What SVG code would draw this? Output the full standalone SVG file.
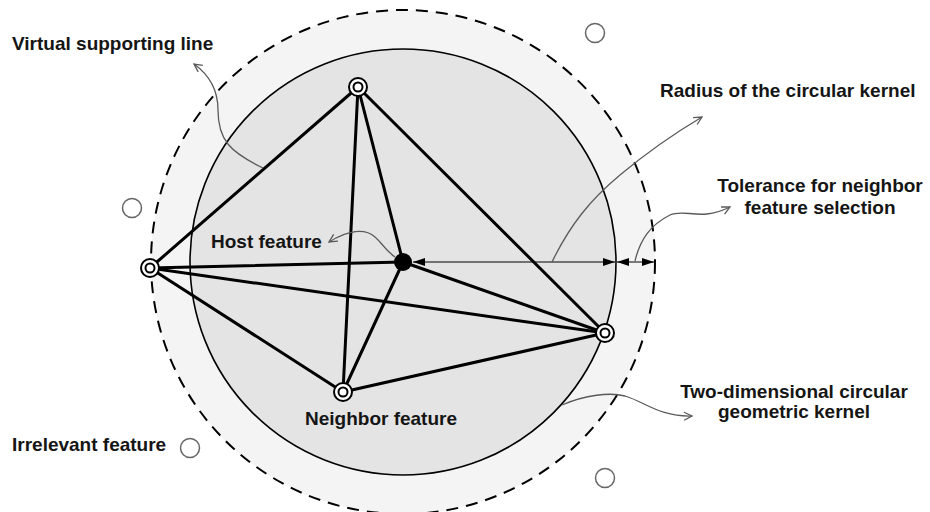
<svg xmlns="http://www.w3.org/2000/svg" width="930" height="512" viewBox="0 0 930 512">
<style>
.t{font-family:"Liberation Sans",Arial,sans-serif;font-weight:bold;font-size:19px;fill:#151515}
.e{stroke:#000;stroke-width:3;fill:none;stroke-linecap:round}
.ld{stroke:#5a5a5a;stroke-width:1.3;fill:none;marker-end:url(#oa)}
.nd{fill:#fff;stroke:#000;stroke-width:2}
.irr{fill:#fff;stroke:#666;stroke-width:1.5}
.dim{stroke:#000;stroke-width:1.2;fill:none;marker-start:url(#ah);marker-end:url(#ah)}
</style>
<defs>
<marker id="ah" viewBox="0 0 12 8" refX="12" refY="4" markerWidth="12" markerHeight="8" markerUnits="userSpaceOnUse" orient="auto-start-reverse"><path d="M0,0 L12,4 L0,8z" fill="#000"/></marker>
<marker id="oa" viewBox="0 0 10 10" refX="9" refY="5" markerWidth="10" markerHeight="10" markerUnits="userSpaceOnUse" orient="auto"><path d="M1,1 L9,5 L1,9" fill="none" stroke="#5a5a5a" stroke-width="1.3"/></marker>
</defs>
<rect width="930" height="512" fill="#fff"/>
<g id="tolerance-zone"><circle cx="403" cy="262" r="252" fill="#f4f4f4" stroke="#000" stroke-width="2" stroke-dasharray="12 8"/></g>
<g id="kernel"><circle cx="403" cy="262" r="213" fill="#e4e4e4" stroke="#000" stroke-width="1.6"/></g>
<g id="connectors">
<line class="e" x1="150" y1="268" x2="358" y2="87"/>
<line class="e" x1="150" y1="268" x2="403" y2="262"/>
<line class="e" x1="150" y1="268" x2="605" y2="333"/>
<line class="e" x1="150" y1="268" x2="343" y2="392"/>
<line class="e" x1="358" y1="87" x2="403" y2="262"/>
<line class="e" x1="358" y1="87" x2="605" y2="333"/>
<line class="e" x1="358" y1="87" x2="343" y2="392"/>
<line class="e" x1="403" y1="262" x2="605" y2="333"/>
<line class="e" x1="403" y1="262" x2="343" y2="392"/>
<line class="e" x1="343" y1="392" x2="605" y2="333"/>
<line class="dim" x1="413" y1="262" x2="615" y2="262"/>
<line class="dim" x1="617" y1="262" x2="654" y2="262"/>
<path class="ld" d="M263,168 C230,152 218,140 218,110 C218,88 208,74 194,64"/>
<path class="ld" d="M552,262 C570,225 590,200 620,175 C650,150 675,133 702,117"/>
<path class="ld" d="M635,261 C640,240 650,225 670,215 C685,208 700,222 730,207"/>
<path class="ld" d="M395,257 C385,250 382,243 375,237 C365,228 348,230 329,242"/>
<path class="ld" d="M562,405 C585,395 610,392 625,396 C645,402 660,417 692,416"/>
</g>
<g id="host"><circle cx="403" cy="262" r="9" fill="#000"/></g>
<g id="n-top"><circle class="nd" cx="358" cy="87" r="9"/><circle class="nd" cx="358" cy="87" r="4.5"/></g>
<g id="n-left"><circle class="nd" cx="150" cy="268" r="9"/><circle class="nd" cx="150" cy="268" r="4.5"/></g>
<g id="n-right"><circle class="nd" cx="605" cy="333" r="9"/><circle class="nd" cx="605" cy="333" r="4.5"/></g>
<g id="n-bottom"><circle class="nd" cx="343" cy="392" r="9"/><circle class="nd" cx="343" cy="392" r="4.5"/></g>
<g id="irr1"><circle class="irr" cx="595" cy="33" r="9.5"/></g>
<g id="irr2"><circle class="irr" cx="132" cy="208" r="9.5"/></g>
<g id="irr3"><circle class="irr" cx="190" cy="448" r="9.5"/></g>
<g id="irr4"><circle class="irr" cx="605" cy="478" r="9.5"/></g>
<g id="labels">
<text class="t" x="12" y="50">Virtual supporting line</text>
<text class="t" x="660" y="97">Radius of the circular kernel</text>
<text class="t" x="820" y="192" text-anchor="middle">Tolerance for neighbor</text>
<text class="t" x="820" y="214" text-anchor="middle">feature selection</text>
<text class="t" x="211" y="248">Host feature</text>
<text class="t" x="794" y="398" text-anchor="middle">Two-dimensional circular</text>
<text class="t" x="794" y="418" text-anchor="middle">geometric kernel</text>
<text class="t" x="305" y="425">Neighbor feature</text>
<text class="t" x="12" y="451">Irrelevant feature</text>
</g>
</svg>
